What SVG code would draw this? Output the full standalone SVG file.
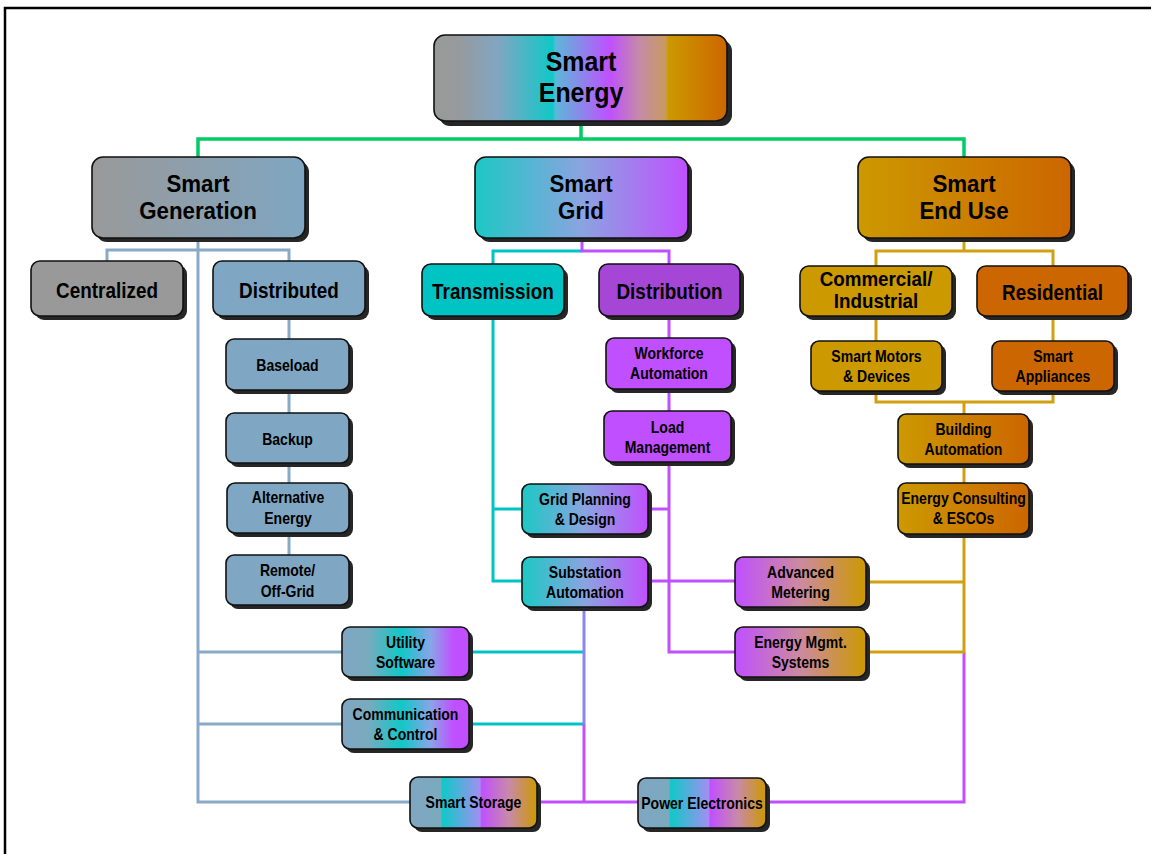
<svg xmlns="http://www.w3.org/2000/svg" width="1151" height="854" viewBox="0 0 1151 854">
<style>
.t{font-family:"Liberation Sans",Arial,sans-serif;font-weight:bold;fill:#000;text-anchor:middle;transform:scaleX(0.86);transform-box:fill-box;transform-origin:center}
.f30{font-size:28px;transform:scaleX(0.89)}.f26{font-size:24.5px;transform:scaleX(0.91)}.f22{font-size:22px}.f20{font-size:20px;transform:scaleX(0.94)}.f17{font-size:16.5px;transform:scaleX(0.85)}
.b{stroke:#111;stroke-width:1.6}
.sh{fill:#262626;filter:url(#blur)}
.c{fill:none;stroke-width:3;stroke-linejoin:miter}
.green{stroke:#00cc66;stroke-width:3.5}
.steel{stroke:#88aac6}
.teal{stroke:#00c4c4}
.purple{stroke:#c050ff}
.gold{stroke:#d0a010}
</style>
<defs>
<filter id="blur" x="-10%" y="-10%" width="120%" height="130%"><feGaussianBlur stdDeviation="0.7"/></filter>
<linearGradient id="gTop" x1="0" x2="1" y1="0" y2="0">
<stop offset="0" stop-color="#999999"/><stop offset="0.08" stop-color="#979a9c"/><stop offset="0.22" stop-color="#80a6c2"/><stop offset="0.405" stop-color="#10c8c8"/><stop offset="0.415" stop-color="#5cb8d8"/><stop offset="0.6" stop-color="#c050ff"/><stop offset="0.7" stop-color="#c48aa8"/><stop offset="0.79" stop-color="#c89a60"/><stop offset="0.80" stop-color="#cc9900"/><stop offset="1" stop-color="#cc6600"/>
</linearGradient>
<linearGradient id="gGen" x1="0" x2="1"><stop offset="0" stop-color="#999999"/><stop offset="1" stop-color="#7fa6c2"/></linearGradient>
<linearGradient id="gGrid" x1="0" x2="1"><stop offset="0" stop-color="#1cc8c4"/><stop offset="0.5" stop-color="#8aa4e0"/><stop offset="1" stop-color="#c050ff"/></linearGradient>
<linearGradient id="gEnd" x1="0" x2="1"><stop offset="0" stop-color="#cc9900"/><stop offset="1" stop-color="#cc6600"/></linearGradient>
<linearGradient id="gMet" x1="0" x2="1"><stop offset="0" stop-color="#c050ff"/><stop offset="0.5" stop-color="#cc8aa0"/><stop offset="1" stop-color="#cc9900"/></linearGradient>
<linearGradient id="gUtil" x1="0" x2="1"><stop offset="0" stop-color="#80a6c2"/><stop offset="0.2" stop-color="#7aaabe"/><stop offset="0.47" stop-color="#10c8c8"/><stop offset="0.7" stop-color="#8aa4e8"/><stop offset="0.88" stop-color="#c050ff"/><stop offset="1" stop-color="#c050ff"/></linearGradient>
<linearGradient id="gSto" x1="0" x2="1"><stop offset="0" stop-color="#80a6c2"/><stop offset="0.24" stop-color="#7aaabe"/><stop offset="0.255" stop-color="#10c8c8"/><stop offset="0.55" stop-color="#a090f0"/><stop offset="0.565" stop-color="#c050ff"/><stop offset="0.78" stop-color="#c88aa8"/><stop offset="1" stop-color="#cc9900"/></linearGradient>
</defs>
<rect x="0" y="0" width="1151" height="854" fill="#fff"/>
<path d="M5,854 V8 H1151" fill="none" stroke="#000" stroke-width="2.5"/>

<g id="connectors">
<path class="c green" d="M581,121 V139 M198,157 V139 H964 V157"/>
<path class="c steel" d="M198,238 V802 H410 M107,261 V250 H289 V261 M289,316 V556 M198,652 H342 M198,724 H342"/>
<path class="c teal" d="M493,264 V251 H582 M493,316 V581 H522 M493,509 H522 M469,652 H584 M469,724 H584"/>
<path class="c" stroke="#8a88f0" d="M584,607 V724"/>
<path class="c purple" d="M582,238 V251 H669 V264 M669,316 V652 H735 M648,509 H669 M648,581 H735 M584,724 V802 M537,802 H638 M766,802 H964 V652"/>
<path class="c gold" d="M964,238 V251 M876,266 V251 H1053 V266 M876,316 V341 M1053,316 V341 M876,391 V402 H1053 V391 M964,402 V414 M964,464 V483 M964,534 V652 H866 M866,582 H964"/>
</g>

<g id="smart-energy">
<rect class="sh" x="439" y="40" width="293" height="86" rx="11"/>
<rect class="b" x="434" y="35" width="293" height="86" rx="11" fill="url(#gTop)"/>
<text class="t f30" x="581" y="71">Smart<tspan x="581" dy="31.5">Energy</tspan></text>
</g>

<g id="smart-generation">
<rect class="sh" x="96" y="161" width="213" height="81" rx="11"/>
<rect class="b" x="92" y="157" width="213" height="81" rx="11" fill="url(#gGen)"/>
<text class="t f26" x="198" y="192">Smart<tspan x="198" dy="27.5">Generation</tspan></text>
</g>

<g id="smart-grid">
<rect class="sh" x="479" y="161" width="213" height="81" rx="11"/>
<rect class="b" x="475" y="157" width="213" height="81" rx="11" fill="url(#gGrid)"/>
<text class="t f26" x="581" y="192">Smart<tspan x="581" dy="27.5">Grid</tspan></text>
</g>

<g id="smart-end-use">
<rect class="sh" x="862" y="161" width="213" height="81" rx="11"/>
<rect class="b" x="858" y="157" width="213" height="81" rx="11" fill="url(#gEnd)"/>
<text class="t f26" x="964" y="192">Smart<tspan x="964" dy="27.5">End Use</tspan></text>
</g>

<g id="centralized">
<rect class="sh" x="35" y="265" width="152" height="55" rx="9"/>
<rect class="b" x="31" y="261" width="152" height="55" rx="9" fill="#999999"/>
<text class="t f22" x="107" y="298">Centralized</text>
</g>

<g id="distributed">
<rect class="sh" x="217" y="265" width="152" height="55" rx="9"/>
<rect class="b" x="213" y="261" width="152" height="55" rx="9" fill="#7fa6c2"/>
<text class="t f22" x="289" y="298">Distributed</text>
</g>

<g id="transmission">
<rect class="sh" x="426" y="268" width="142" height="52" rx="9"/>
<rect class="b" x="422" y="264" width="142" height="52" rx="9" fill="#00c4c4"/>
<text class="t f22" x="493" y="299">Transmission</text>
</g>

<g id="distribution">
<rect class="sh" x="603" y="268" width="141" height="52" rx="9"/>
<rect class="b" x="599" y="264" width="141" height="52" rx="9" fill="#a646d6"/>
<text class="t f22" x="669.5" y="299">Distribution</text>
</g>

<g id="commercial-industrial">
<rect class="sh" x="804" y="270" width="152" height="50" rx="9"/>
<rect class="b" x="800" y="266" width="152" height="50" rx="9" fill="#cc9900"/>
<text class="t f20" x="876" y="286">Commercial/<tspan x="876" dy="22.5">Industrial</tspan></text>
</g>

<g id="residential">
<rect class="sh" x="981" y="270" width="151" height="50" rx="9"/>
<rect class="b" x="977" y="266" width="151" height="50" rx="9" fill="#cc6600"/>
<text class="t f22" x="1052.5" y="300">Residential</text>
</g>

<g id="baseload">
<rect class="sh" x="230" y="343" width="123" height="51" rx="8"/>
<rect class="b" x="226" y="339" width="123" height="51" rx="8" fill="#7fa6c2"/>
<text class="t f17" x="287.5" y="371.5">Baseload</text>
</g>

<g id="backup">
<rect class="sh" x="230" y="417" width="123" height="50" rx="8"/>
<rect class="b" x="226" y="413" width="123" height="50" rx="8" fill="#7fa6c2"/>
<text class="t f17" x="287.5" y="445">Backup</text>
</g>

<g id="alternative-energy">
<rect class="sh" x="231" y="487" width="122" height="50" rx="8"/>
<rect class="b" x="227" y="483" width="122" height="50" rx="8" fill="#7fa6c2"/>
<text class="t f17" x="288" y="503.5">Alternative<tspan x="288" dy="20.5">Energy</tspan></text>
</g>

<g id="remote-off-grid">
<rect class="sh" x="230" y="559" width="123" height="50" rx="8"/>
<rect class="b" x="226" y="555" width="123" height="50" rx="8" fill="#7fa6c2"/>
<text class="t f17" x="287.5" y="576.5">Remote/<tspan x="287.5" dy="20.5">Off-Grid</tspan></text>
</g>

<g id="workforce-automation">
<rect class="sh" x="610" y="342" width="126" height="51" rx="8"/>
<rect class="b" x="606" y="338" width="126" height="51" rx="8" fill="#c050ff"/>
<text class="t f17" x="669" y="359.5">Workforce<tspan x="669" dy="20">Automation</tspan></text>
</g>

<g id="load-management">
<rect class="sh" x="608" y="415" width="127" height="51" rx="8"/>
<rect class="b" x="604" y="411" width="127" height="51" rx="8" fill="#c050ff"/>
<text class="t f17" x="667.5" y="433">Load<tspan x="667.5" dy="20">Management</tspan></text>
</g>

<g id="grid-planning">
<rect class="sh" x="526" y="488" width="126" height="50" rx="8"/>
<rect class="b" x="522" y="484" width="126" height="50" rx="8" fill="url(#gGrid)"/>
<text class="t f17" x="585" y="505">Grid Planning<tspan x="585" dy="20">&amp; Design</tspan></text>
</g>

<g id="substation-automation">
<rect class="sh" x="526" y="561" width="126" height="50" rx="8"/>
<rect class="b" x="522" y="557" width="126" height="50" rx="8" fill="url(#gGrid)"/>
<text class="t f17" x="585" y="578">Substation<tspan x="585" dy="20">Automation</tspan></text>
</g>

<g id="smart-motors">
<rect class="sh" x="815" y="345" width="131" height="50" rx="8"/>
<rect class="b" x="811" y="341" width="131" height="50" rx="8" fill="#cc9900"/>
<text class="t f17" x="876.5" y="362">Smart Motors<tspan x="876.5" dy="20">&amp; Devices</tspan></text>
</g>

<g id="smart-appliances">
<rect class="sh" x="996" y="345" width="122" height="50" rx="8"/>
<rect class="b" x="992" y="341" width="122" height="50" rx="8" fill="#cc6600"/>
<text class="t f17" x="1053" y="362">Smart<tspan x="1053" dy="20">Appliances</tspan></text>
</g>

<g id="building-automation">
<rect class="sh" x="902" y="418" width="131" height="50" rx="8"/>
<rect class="b" x="898" y="414" width="131" height="50" rx="8" fill="url(#gEnd)"/>
<text class="t f17" x="963.5" y="435">Building<tspan x="963.5" dy="20">Automation</tspan></text>
</g>

<g id="energy-consulting">
<rect class="sh" x="902" y="487" width="131" height="51" rx="8"/>
<rect class="b" x="898" y="483" width="131" height="51" rx="8" fill="url(#gEnd)"/>
<text class="t f17" x="963.5" y="504.5">Energy Consulting<tspan x="963.5" dy="20">&amp; ESCOs</tspan></text>
</g>

<g id="advanced-metering">
<rect class="sh" x="739" y="561" width="131" height="50" rx="8"/>
<rect class="b" x="735" y="557" width="131" height="50" rx="8" fill="url(#gMet)"/>
<text class="t f17" x="800.5" y="578">Advanced<tspan x="800.5" dy="20">Metering</tspan></text>
</g>

<g id="energy-mgmt-systems">
<rect class="sh" x="739" y="631" width="131" height="50" rx="8"/>
<rect class="b" x="735" y="627" width="131" height="50" rx="8" fill="url(#gMet)"/>
<text class="t f17" x="800.5" y="648">Energy Mgmt.<tspan x="800.5" dy="20">Systems</tspan></text>
</g>

<g id="utility-software">
<rect class="sh" x="346" y="631" width="127" height="50" rx="8"/>
<rect class="b" x="342" y="627" width="127" height="50" rx="8" fill="url(#gUtil)"/>
<text class="t f17" x="405.5" y="648">Utility<tspan x="405.5" dy="20">Software</tspan></text>
</g>

<g id="communication-control">
<rect class="sh" x="346" y="703" width="127" height="50" rx="8"/>
<rect class="b" x="342" y="699" width="127" height="50" rx="8" fill="url(#gUtil)"/>
<text class="t f17" x="405.5" y="720">Communication<tspan x="405.5" dy="20">&amp; Control</tspan></text>
</g>

<g id="smart-storage">
<rect class="sh" x="414" y="781" width="127" height="51" rx="8"/>
<rect class="b" x="410" y="777" width="127" height="51" rx="8" fill="url(#gSto)"/>
<text class="t f17" x="473.5" y="808.5">Smart Storage</text>
</g>

<g id="power-electronics">
<rect class="sh" x="642" y="782" width="128" height="50" rx="8"/>
<rect class="b" x="638" y="778" width="128" height="50" rx="8" fill="url(#gSto)"/>
<text class="t f17" x="702" y="809">Power Electronics</text>
</g>
</svg>
